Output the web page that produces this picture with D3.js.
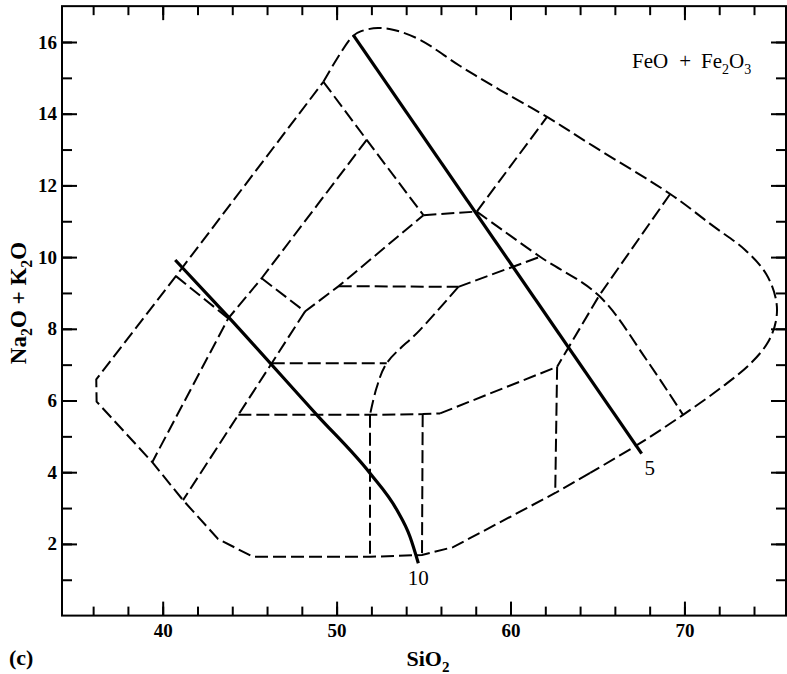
<!DOCTYPE html>
<html>
<head>
<meta charset="utf-8">
<script src="https://cdn.jsdelivr.net/npm/d3@7"></script>
<style>
  body { margin: 0; background: #fff; }
  text { font-family: "Liberation Serif", "Times New Roman", serif; fill: #000; }
</style>
</head>
<body>
<script>
// ---------- data (SiO2 wt%, Na2O + K2O wt%) ----------
const xMinorTicks = d3.range(36, 75, 2);
const xMajorTicks = [40, 50, 60, 70];
const yMinorTicks = d3.range(1, 17, 1);
const yMajorTicks = [2, 4, 6, 8, 10, 12, 14, 16];

// outer envelope: rounded high-silica / high-alkali part
const envelopeArc = [
  [49.24, 14.89], [50.94, 16.17], [51.46, 16.31], [52.38, 16.39], [53.36, 16.33],
  [54.80, 16.06], [57.10, 15.33], [59.40, 14.66], [62.10, 13.91], [64.74, 13.10],
  [69.18, 11.76], [71.64, 10.87], [73.49, 10.20], [74.70, 9.53], [75.27, 8.80],
  [75.27, 8.24], [74.81, 7.63], [73.78, 7.02], [72.17, 6.38], [69.92, 5.60],
  [67.45, 4.81], [64.58, 3.98]
];
// outer envelope: straight-sided low-silica part
const envelopeBase = [
  [64.58, 3.98], [62.57, 3.42], [56.70, 1.91], [54.91, 1.69], [51.92, 1.64],
  [45.19, 1.64], [43.18, 2.14], [41.17, 3.22], [39.40, 4.28], [36.20, 5.97],
  [36.18, 6.59], [40.76, 9.47], [49.24, 14.89]
];

// internal field boundaries
const straightBounds = [
  [[49.24, 14.89], [51.73, 13.27], [54.99, 11.17]],
  [[51.73, 13.27], [45.69, 9.41], [43.77, 8.29], [39.40, 4.28]],
  [[40.76, 9.47], [43.77, 8.29]],
  [[45.69, 9.41], [48.18, 8.48], [50.12, 9.19], [54.99, 11.17]],
  [[48.18, 8.48], [46.27, 7.04], [44.35, 5.60], [41.17, 3.22]],
  [[50.12, 9.19], [57.00, 9.17]],
  [[54.99, 11.17], [58.06, 11.27]],
  [[58.06, 11.27], [62.10, 13.91]],
  [[57.00, 9.17], [61.70, 10.01]],
  [[46.27, 7.04], [52.88, 7.04]],
  [[44.35, 5.60], [51.92, 5.60], [54.95, 5.62], [55.95, 5.64]],
  [[51.92, 5.60], [51.92, 1.64]],
  [[54.95, 5.62], [54.91, 1.69]],
  [[55.95, 5.64], [62.68, 6.94]],
  [[62.68, 6.94], [62.57, 3.42]],
  [[69.18, 11.76], [65.09, 8.92], [62.68, 6.94]]
];
const curvedBounds = [
  [[58.06, 11.27], [61.70, 10.01], [65.09, 8.92], [67.83, 7.13], [69.92, 5.60]],
  [[57.00, 9.17], [54.80, 7.97], [52.88, 7.04], [52.29, 6.34], [51.92, 5.60]]
];

// FeO + Fe2O3 isopleths
const isoplethLabels = ["10", "5"];
const iso10 = [
  [40.72, 9.92], [43.68, 8.38], [48.86, 5.60], [51.92, 3.97],
  [53.46, 2.95], [54.22, 2.20], [54.70, 1.46]
];
const iso5 = [[50.96, 16.19], [67.54, 4.52]];

// ---------- drawing ----------
const W = 787, H = 674;
const svg = d3.select("body").append("svg").attr("width", W).attr("height", H);

const x = d3.scaleLinear().domain([34.21, 75.84]).range([62, 786]);
const y = d3.scaleLinear().domain([0, 17]).range([615.6, 6.15]);
const [x0, x1] = x.range();
const [y0, y1] = y.range();

function styleAxis(g) {
  g.select(".domain").remove();
  g.selectAll(".tick line").attr("stroke", "#000").attr("stroke-width", 2);
  g.selectAll(".tick text")
    .style("font-family", '"Liberation Serif", serif')
    .style("font-weight", "bold")
    .style("font-size", "19px")
    .attr("fill", "#000");
}

// ticks point inward on all four sides
svg.append("g").attr("transform", `translate(0,${y0})`)
  .call(d3.axisBottom(x).tickValues(xMinorTicks).tickSize(-9).tickFormat(""))
  .call(styleAxis);
svg.append("g").attr("transform", `translate(0,${y0})`)
  .call(d3.axisBottom(x).tickValues(xMajorTicks).tickSize(-14).tickPadding(8).tickFormat(d3.format("d")))
  .call(styleAxis);
svg.append("g").attr("transform", `translate(0,${y1})`)
  .call(d3.axisTop(x).tickValues(xMinorTicks).tickSize(-9).tickFormat(""))
  .call(styleAxis);
svg.append("g").attr("transform", `translate(0,${y1})`)
  .call(d3.axisTop(x).tickValues(xMajorTicks).tickSize(-14).tickFormat(""))
  .call(styleAxis);

svg.append("g").attr("transform", `translate(${x0},0)`)
  .call(d3.axisLeft(y).tickValues(yMinorTicks).tickSize(-10).tickFormat(""))
  .call(styleAxis);
svg.append("g").attr("transform", `translate(${x0},0)`)
  .call(d3.axisLeft(y).tickValues(yMajorTicks).tickSize(-15).tickPadding(5).tickFormat(d3.format("d")))
  .call(styleAxis);
svg.append("g").attr("transform", `translate(${x1},0)`)
  .call(d3.axisRight(y).tickValues(yMinorTicks).tickSize(-10).tickFormat(""))
  .call(styleAxis);
svg.append("g").attr("transform", `translate(${x1},0)`)
  .call(d3.axisRight(y).tickValues(yMajorTicks).tickSize(-15).tickFormat(""))
  .call(styleAxis);

// frame
svg.append("rect")
  .attr("x", x0).attr("y", y1)
  .attr("width", x1 - x0).attr("height", y0 - y1)
  .attr("fill", "none").attr("stroke", "#000").attr("stroke-width", 2);

const lineStraight = d3.line().x(d => x(d[0])).y(d => y(d[1]));
const lineSmooth = d3.line().x(d => x(d[0])).y(d => y(d[1])).curve(d3.curveCatmullRom.alpha(0.5));
const lineMono = d3.line().x(d => x(d[0])).y(d => y(d[1])).curve(d3.curveMonotoneX);

const dashed = svg.append("g")
  .attr("fill", "none").attr("stroke", "#000")
  .attr("stroke-width", 2).attr("stroke-dasharray", "13,5");

dashed.append("path").attr("d", lineSmooth(envelopeArc));
dashed.append("path").attr("d", lineStraight(envelopeBase));
dashed.selectAll("path.sb").data(straightBounds).join("path")
  .attr("class", "sb").attr("d", lineStraight);
dashed.selectAll("path.cb").data(curvedBounds).join("path")
  .attr("class", "cb").attr("d", lineSmooth);

const solid = svg.append("g")
  .attr("fill", "none").attr("stroke", "#000").attr("stroke-width", 3.2);
solid.append("path").attr("d", lineMono(iso10));
solid.append("path").attr("d", lineStraight(iso5));

// isopleth labels at the lower ends of the lines
const iso10End = iso10[iso10.length - 1];
const iso5End = iso5[iso5.length - 1];
svg.append("text")
  .attr("x", x(iso10End[0])).attr("y", y(iso10End[1]) + 22)
  .attr("text-anchor", "middle").style("font-size", "21px")
  .text(isoplethLabels[0]);
svg.append("text")
  .attr("x", x(iso5End[0]) + 8).attr("y", y(iso5End[1]) + 21)
  .attr("text-anchor", "middle").style("font-size", "21px")
  .text(isoplethLabels[1]);

// text with subscripts
function rich(textSel, parts, size) {
  const sub = Math.round(size * 0.68);
  const drop = Math.round(size * 0.28);
  let shifted = false;
  parts.forEach(([str, isSub, dx]) => {
    const t = textSel.append("tspan").text(str);
    if (dx) t.attr("dx", dx);
    if (isSub && !shifted) { t.attr("dy", drop).style("font-size", sub + "px"); shifted = true; }
    else if (isSub) { t.style("font-size", sub + "px"); }
    else if (shifted) { t.attr("dy", -drop); shifted = false; }
  });
}

// panel title
const title = svg.append("text")
  .attr("x", 632).attr("y", 68)
  .style("font-size", "21px");
rich(title, [["FeO"], ["+", false, 11], ["Fe", false, 10], ["2", true], ["O"], ["3", true]], 21);

// axis titles
const xTitle = svg.append("text")
  .attr("x", 428).attr("y", 666)
  .attr("text-anchor", "middle")
  .style("font-size", "22px").style("font-weight", "bold");
rich(xTitle, [["SiO"], ["2", true]], 22);

const yTitle = svg.append("text")
  .attr("transform", "translate(26,303) rotate(-90)")
  .attr("text-anchor", "middle")
  .style("font-size", "23px").style("font-weight", "bold");
rich(yTitle, [["Na"], ["2", true], ["O + K"], ["2", true], ["O"]], 23);

svg.append("text")
  .attr("x", 9).attr("y", 665)
  .style("font-size", "22px").style("font-weight", "bold")
  .text("(c)");
</script>
</body>
</html>
